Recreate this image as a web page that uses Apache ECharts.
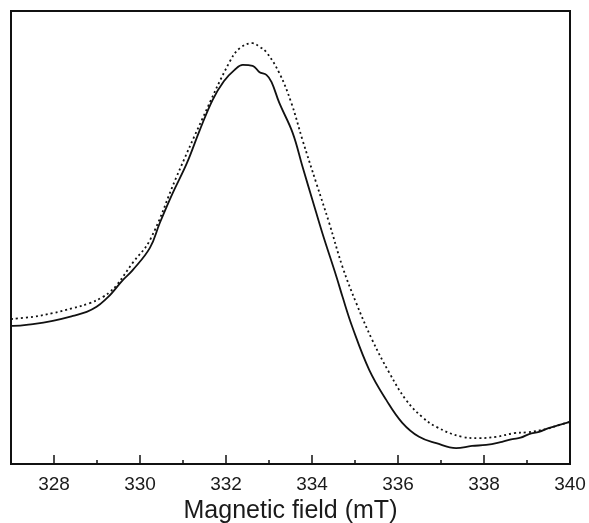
<!DOCTYPE html>
<html>
<head>
<meta charset="utf-8">
<script src="https://cdn.jsdelivr.net/npm/echarts@6/dist/echarts.min.js"></script>
<style>
  html, body { margin: 0; padding: 0; background: #fff; }
  #chart { width: 589px; height: 523px; }
</style>
</head>
<body>
<div id="chart"></div>
<script>
// champ magnétique (mT) et intensité (unités arbitraires)
var fieldSolid = [327.0, 327.05, 327.51, 327.97, 328.44, 328.76, 328.99, 329.23, 329.37, 329.6, 329.83,
  330.23, 330.46, 330.76, 331.09, 331.39, 331.69, 331.95, 332.2, 332.39, 332.62, 332.78, 332.94,
  333.06, 333.24, 333.55, 333.78, 334.01, 334.24, 334.57, 334.71, 334.94, 335.33, 335.73, 336.1,
  336.49, 336.89, 337.35, 337.72, 338.05, 338.42, 338.66, 338.85, 339.05, 339.28, 339.5, 339.74, 340.0];
var intensitySolid = [30.5, 30.5, 30.9, 31.6, 32.7, 33.6, 34.7, 36.6, 38.0, 40.6, 42.8,
  47.7, 53.2, 59.8, 66.4, 73.7, 80.4, 84.5, 87.0, 88.1, 87.9, 86.5, 85.9,
  84.3, 79.7, 73.1, 65.6, 58.3, 51.0, 41.3, 36.9, 30.2, 20.8, 14.1, 9.1,
  6.0, 4.6, 3.5, 4.0, 4.2, 4.9, 5.5, 5.8, 6.6, 7.1, 7.9, 8.6, 9.3];

var fieldDotted = [327.0, 327.51, 327.97, 328.44, 328.83, 329.14, 329.3, 329.46, 329.83, 330.23,
  330.85, 331.46, 332.08, 332.32, 332.62, 332.78, 332.94, 333.24, 333.52, 333.78, 334.1, 334.4,
  334.71, 335.03, 335.4, 335.8, 336.19, 336.56, 336.89, 337.49, 337.89, 338.28, 338.7, 339.0,
  339.44, 339.74, 340.0];
var intensityDotted = [32.0, 32.5, 33.3, 34.4, 35.5, 36.9, 38.0, 39.5, 44.4, 49.4,
  63.4, 76.4, 88.7, 91.8, 92.9, 92.1, 90.9, 86.3, 79.7, 71.5, 62.0, 53.2,
  43.5, 35.5, 27.4, 20.1, 14.1, 10.4, 8.2, 6.0, 5.7, 6.0, 6.8, 7.0,
  7.7, 8.6, 9.3];

// graduations
var majorTicks = [328, 330, 332, 334, 336, 338, 340];
var minorTicks = [329, 331, 333, 335, 337, 339];

function pairs(xs, ys) {
  return xs.map(function (x, i) { return [x, ys[i]]; });
}

var chart = echarts.init(document.getElementById('chart'));

var option = {
  backgroundColor: '#fff',
  animation: false,
  grid: {
    left: 11, right: 19, top: 11, bottom: 59,
    outerBoundsMode: 'none', containLabel: false,
    show: true, borderColor: '#111', borderWidth: 2
  },
  xAxis: [{
    type: 'value', min: 327, max: 340, position: 'bottom',
    axisLine: { show: true, lineStyle: { color: '#111', width: 2 } },
    axisTick: { inside: true, length: 4, customValues: minorTicks, lineStyle: { color: '#111', width: 1.5 } },
    axisLabel: {
      customValues: majorTicks, margin: 11,
      fontFamily: 'Liberation Sans', fontSize: 19, color: '#1a1a1a'
    },
    splitLine: { show: false },
    name: 'Magnetic field (mT)', nameLocation: 'middle', nameGap: 34,
    nameTextStyle: { fontFamily: 'Liberation Sans', fontSize: 25, color: '#1a1a1a' }
  }, {
    type: 'value', min: 327, max: 340, position: 'bottom',
    axisLine: { show: false },
    axisTick: { inside: true, length: 9, customValues: majorTicks, lineStyle: { color: '#111', width: 1.5 } },
    axisLabel: { show: false },
    splitLine: { show: false }
  }],
  yAxis: {
    type: 'value', min: 0, max: 100, show: false
  },
  series: [{
    type: 'line',
    data: pairs(fieldDotted, intensityDotted),
    showSymbol: false, smooth: 0.4,
    lineStyle: { color: '#111', width: 1.8, type: [2, 3] }
  }, {
    type: 'line',
    data: pairs(fieldSolid, intensitySolid),
    showSymbol: false, smooth: 0.4,
    lineStyle: { color: '#111', width: 1.8 }
  }]
};

chart.setOption(option);
</script>
</body>
</html>
